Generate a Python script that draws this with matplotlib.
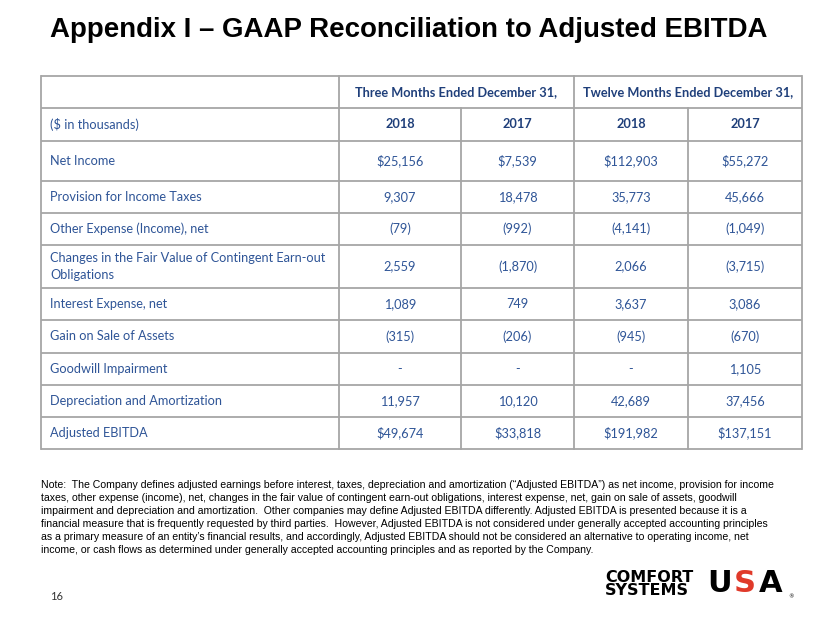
import matplotlib
matplotlib.use("Agg")
import matplotlib.pyplot as plt

# ---------------- data ----------------
title = "Appendix I \u2013 GAAP Reconciliation to Adjusted EBITDA"
period_headers = ["Three Months Ended December 31,", "Twelve Months Ended December 31,"]
year_headers = ["2018", "2017", "2018", "2017"]
unit_label = "($ in thousands)"
row_labels = [
    "Net Income",
    "Provision for Income Taxes",
    "Other Expense (Income), net",
    "Changes in the Fair Value of Contingent Earn-out\nObligations",
    "Interest Expense, net",
    "Gain on Sale of Assets",
    "Goodwill Impairment",
    "Depreciation and Amortization",
    "Adjusted EBITDA",
]
q4_2018 = [25156, 9307, -79, 2559, 1089, -315, None, 11957, 49674]
q4_2017 = [7539, 18478, -992, -1870, 749, -206, None, 10120, 33818]
fy_2018 = [112903, 35773, -4141, 2066, 3637, -945, None, 42689, 191982]
fy_2017 = [55272, 45666, -1049, -3715, 3086, -670, 1105, 37456, 137151]
dollar_rows = [0, 8]
note = ("Note:  The Company defines adjusted earnings before interest, taxes, depreciation and amortization (\u201cAdjusted EBITDA\u201d) as net income, provision for income\n"
        "taxes, other expense (income), net, changes in the fair value of contingent earn-out obligations, interest expense, net, gain on sale of assets, goodwill\n"
        "impairment and depreciation and amortization.  Other companies may define Adjusted EBITDA differently. Adjusted EBITDA is presented because it is a\n"
        "financial measure that is frequently requested by third parties.  However, Adjusted EBITDA is not considered under generally accepted accounting principles\n"
        "as a primary measure of an entity\u2019s financial results, and accordingly, Adjusted EBITDA should not be considered an alternative to operating income, net\n"
        "income, or cash flows as determined under generally accepted accounting principles and as reported by the Company.")
page_number = "16"
logo_words = "COMFORT\nSYSTEMS"
logo_letters = ["U", "S", "A"]

# ---------------- layout ----------------
W, H = 830, 623
fig = plt.figure(figsize=(W / 100, H / 100), dpi=100)
ax = fig.add_axes([0, 0, 1, 1])
ax.set_xlim(0, W)
ax.set_ylim(H, 0)
ax.axis("off")

body = "Lato"
sans = "Liberation Sans"

# title, sized to span the same width as the reference
t = ax.text(50, 30, title, fontsize=22, fontweight="bold", family=sans,
            color="black", va="center", ha="left")
fig.canvas.draw()
bb = t.get_window_extent()
t.set_fontsize(22 * 717.0 / bb.width)

xs = [41, 339, 461, 574, 688, 802]
ys = [76, 108, 141, 181, 213, 245, 288, 320, 353, 385, 417, 449]
gc = "#A6A6A6"
lw = 1.3
for y in ys:
    ax.plot([xs[0], xs[-1]], [y, y], color=gc, lw=lw, solid_capstyle="butt")
for x in [xs[0], xs[1], xs[3], xs[-1]]:
    ax.plot([x, x], [ys[0], ys[-1]], color=gc, lw=lw)
for x in [xs[2], xs[4]]:
    ax.plot([x, x], [ys[1], ys[-1]], color=gc, lw=lw)

blue = "#2F5597"
dblue = "#1F3F7A"
fs = 9.2

def fmt(v, dollar):
    if v is None:
        return "-"
    s = f"{abs(v):,}"
    if dollar:
        s = "$" + s
    if v < 0:
        s = "(" + s + ")"
    return s

ax.text((xs[1] + xs[3]) / 2, (ys[0] + ys[1]) / 2, period_headers[0], fontsize=fs,
        fontweight="bold", color=dblue, family=body, ha="center", va="center")
ax.text((xs[3] + xs[5]) / 2, (ys[0] + ys[1]) / 2, period_headers[1], fontsize=fs,
        fontweight="bold", color=dblue, family=body, ha="center", va="center")
ax.text(50, (ys[1] + ys[2]) / 2, unit_label, fontsize=fs, color=blue, family=body,
        ha="left", va="center")
for i, yh in enumerate(year_headers):
    ax.text((xs[i + 1] + xs[i + 2]) / 2, (ys[1] + ys[2]) / 2, yh, fontsize=fs,
            fontweight="bold", color=dblue, family=body, ha="center", va="center")

cols = [q4_2018, q4_2017, fy_2018, fy_2017]
for r, lab in enumerate(row_labels):
    yc = (ys[r + 2] + ys[r + 3]) / 2
    ax.text(50, yc, lab, fontsize=fs, color=blue, family=body, ha="left",
            va="center", linespacing=1.45)
    for c, col in enumerate(cols):
        ax.text((xs[c + 1] + xs[c + 2]) / 2, yc, fmt(col[r], r in dollar_rows),
                fontsize=fs, color=blue, family=body, ha="center", va="center")

ax.text(41, 480, note, fontsize=7.6, color="black", family=sans, ha="left",
        va="top", linespacing=1.38)
ax.text(50, 596, page_number, fontsize=8, color="#333333", family=body,
        ha="left", va="center")

# logo
ax.text(605, 584, logo_words, fontsize=11.5, fontweight="heavy",
        family="DejaVu Sans", color="black", ha="left", va="center",
        linespacing=0.82)
logo_x = [707, 734, 759]
logo_c = ["black", "#E03A2A", "black"]
for lx, letter, lc in zip(logo_x, logo_letters, logo_c):
    ax.text(lx, 584, letter, fontsize=22, fontweight="heavy", family="DejaVu Sans",
            color=lc, ha="left", va="center")
ax.text(788, 597, "\u00ae", fontsize=4, color="black", ha="left", va="center")

fig.savefig("out.png", dpi=100)
